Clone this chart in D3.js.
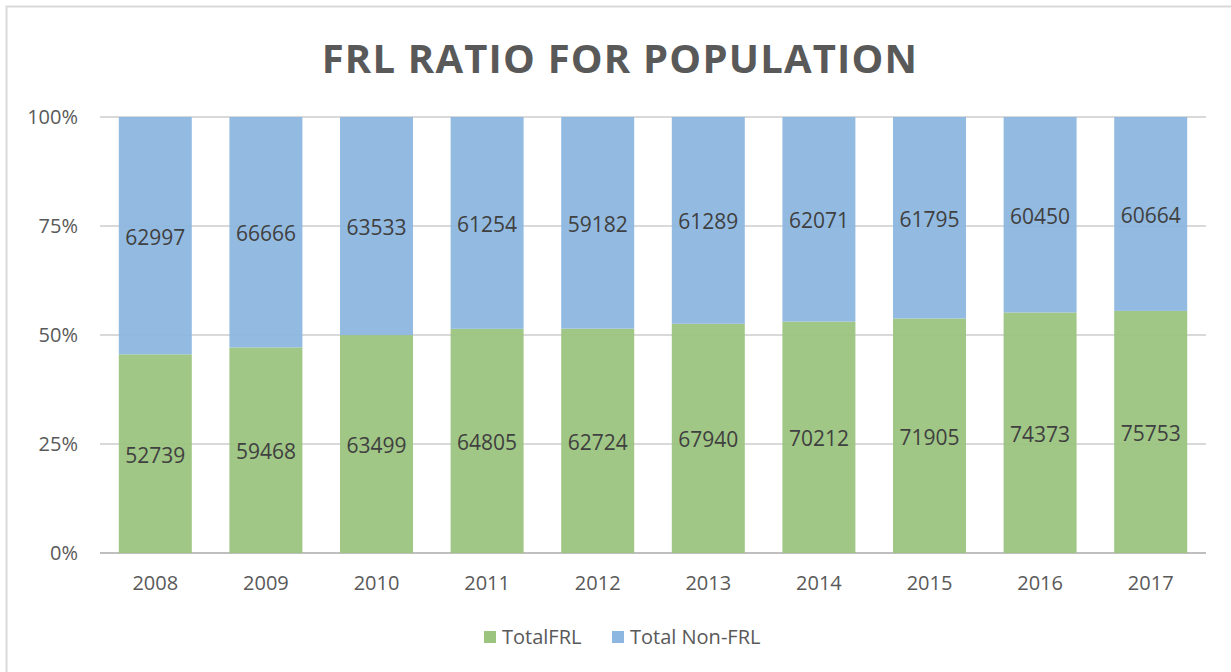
<!DOCTYPE html>
<html>
<head>
<meta charset="utf-8">
<script src="https://cdn.jsdelivr.net/npm/d3@7"></script>
<style>
  body { margin: 0; background: #fff; }
  svg { display: block; font-family: "Open Sans", "Liberation Sans", sans-serif; }
</style>
</head>
<body>
<div id="chart"></div>
<script>
const years = ["2008", "2009", "2010", "2011", "2012", "2013", "2014", "2015", "2016", "2017"];
const totalFRL = [52739, 59468, 63499, 64805, 62724, 67940, 70212, 71905, 74373, 75753];
const totalNonFRL = [62997, 66666, 63533, 61254, 59182, 61289, 62071, 61795, 60450, 60664];
const seriesNames = ["TotalFRL", "Total Non-FRL"];
const yTicks = [0, 0.25, 0.5, 0.75, 1];

const width = 1231, height = 672;
const colors = ["#9bc47f", "#8db7e0"];

const svg = d3.select("#chart").append("svg")
    .attr("width", width)
    .attr("height", height);

// chart border (left + top only visible)
svg.append("path")
    .attr("d", "M6.5,672 L6.5,6.5 L1231,6.5")
    .attr("fill", "none")
    .attr("stroke", "#d9d9d9")
    .attr("stroke-width", 2);

svg.append("text")
    .attr("x", 620)
    .attr("y", 73)
    .attr("text-anchor", "middle")
    .attr("font-size", 40)
    .attr("font-weight", "bold")
    .attr("fill", "#595959")
    .attr("letter-spacing", 1.2)
    .text("FRL RATIO FOR POPULATION");

const x = d3.scaleBand()
    .domain(years)
    .range([100, 1206])
    .paddingInner(0.34)
    .paddingOuter(0.17);

const y = d3.scaleLinear()
    .domain([0, 1])
    .range([553, 117]);

// gridlines
svg.append("g")
    .selectAll("line")
    .data(yTicks)
    .join("line")
    .attr("x1", 100)
    .attr("x2", 1206)
    .attr("y1", d => y(d))
    .attr("y2", d => y(d))
    .attr("stroke", d => d === 0 ? "#bfbfbf" : "#d9d9d9")
    .attr("stroke-width", 2);

const rows = years.map((yr, i) => ({ year: yr, TotalFRL: totalFRL[i], "Total Non-FRL": totalNonFRL[i] }));
const stacked = d3.stack().keys(seriesNames).offset(d3.stackOffsetExpand)(rows);

const groups = svg.append("g")
    .selectAll("g")
    .data(stacked)
    .join("g")
    .attr("fill", (d, i) => colors[i]);

groups.selectAll("rect")
    .data(d => d)
    .join("rect")
    .attr("x", d => x(d.data.year))
    .attr("width", x.bandwidth())
    .attr("y", d => y(d[1]))
    .attr("height", d => y(d[0]) - y(d[1]))
    .attr("fill-opacity", 0.95);

groups.selectAll("text")
    .data(d => d.map(p => ({ p: p, key: d.key })))
    .join("text")
    .attr("x", d => x(d.p.data.year) + x.bandwidth() / 2)
    .attr("y", d => y((d.p[0] + d.p[1]) / 2) + 9)
    .attr("text-anchor", "middle")
    .attr("font-size", 21)
    .attr("fill", "#404040")
    .text(d => d.p.data[d.key]);

// y axis labels
const yAxis = svg.append("g")
    .attr("transform", "translate(78,0)")
    .call(d3.axisLeft(y).tickValues(yTicks).tickFormat(d3.format(".0%")).tickSize(0).tickPadding(0));
yAxis.select(".domain").remove();
yAxis.selectAll("text")
    .attr("font-size", 20)
    .attr("fill", "#595959")
    .attr("font-family", "'Open Sans', sans-serif");

// x axis labels
const xAxis = svg.append("g")
    .attr("transform", "translate(0,553)")
    .call(d3.axisBottom(x).tickSize(0).tickPadding(23));
xAxis.select(".domain").remove();
xAxis.selectAll("text")
    .attr("font-size", 20)
    .attr("fill", "#595959")
    .attr("font-family", "'Open Sans', sans-serif");

// legend
const legendX = [484, 612];
const legend = svg.append("g")
    .selectAll("g")
    .data(seriesNames)
    .join("g")
    .attr("transform", (d, i) => `translate(${legendX[i]},631)`);
legend.append("rect")
    .attr("width", 12)
    .attr("height", 12)
    .attr("fill", (d, i) => colors[i]);
legend.append("text")
    .attr("x", 18)
    .attr("y", 13)
    .attr("font-size", 20)
    .attr("fill", "#595959")
    .text(d => d);
</script>
</body>
</html>
